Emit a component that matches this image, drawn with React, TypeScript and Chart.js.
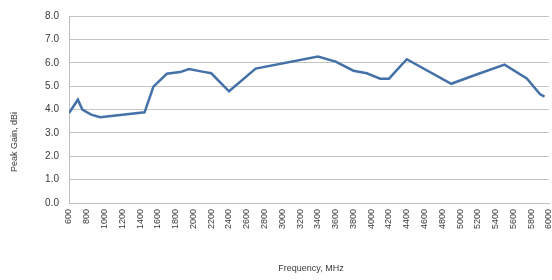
import React, { useEffect, useRef } from "react";
import { Chart, registerables } from "chart.js";

Chart.register(...registerables);

const frequencies = [600, 700, 750, 850, 950, 1450, 1550, 1700, 1850, 1950, 2100, 2200, 2400, 2700, 3400, 3600, 3800, 3950, 4100, 4200, 4400, 4900, 5200, 5500, 5750, 5900, 5950];
const gains = [3.85, 4.42, 4.0, 3.78, 3.67, 3.88, 4.98, 5.53, 5.6, 5.73, 5.62, 5.55, 4.78, 5.75, 6.27, 6.05, 5.66, 5.55, 5.32, 5.32, 6.15, 5.1, 5.52, 5.92, 5.33, 4.65, 4.55];
const xTitle = "Frequency, MHz";
const yTitle = "Peak Gain, dBi";

const FONT = '"Liberation Sans", Arial, sans-serif';

export default function App() {
  const ref = useRef<HTMLCanvasElement>(null);
  useEffect(() => {
    if (!ref.current) return;
    const titles = {
      id: "titles",
      afterDraw(chart: any) {
        const ctx = chart.ctx;
        ctx.save();
        ctx.font = `9px ${FONT}`;
        ctx.fillStyle = "#3A3A3A";
        ctx.textAlign = "center";
        ctx.textBaseline = "middle";
        ctx.fillText(xTitle, 311, 269);
        ctx.translate(15, 142);
        ctx.rotate(-Math.PI / 2);
        ctx.fillText(yTitle, 0, 0);
        ctx.restore();
      },
    };
    const chart = new Chart(ref.current, {
      type: "line",
      data: {
        datasets: [
          {
            data: frequencies.map((f, i) => ({ x: f, y: gains[i] })),
            borderColor: "#4472A8",
            borderWidth: 2.5,
            pointRadius: 0,
            tension: 0,
            fill: false,
          },
        ],
      },
      options: {
        responsive: false,
        animation: false,
        layout: { padding: { left: 0, right: 3, top: 15, bottom: 0 } },
        plugins: { legend: { display: false }, tooltip: { enabled: false } },
        scales: {
          x: {
            type: "linear",
            min: 600,
            max: 6000,
            grid: { display: false, drawTicks: false },
            border: { display: true, color: "#BFBFBF" },
            ticks: {
              stepSize: 200,
              autoSkip: false,
              maxRotation: 90,
              minRotation: 90,
              padding: 6,
              color: "#3A3A3A",
              font: { family: FONT, size: 9 },
              callback: (v: any) => String(v),
            },
            afterFit: (s: any) => {
              s.height = 77;
              s.paddingLeft = 0;
              s.paddingRight = 0;
            },
          },
          y: {
            min: 0,
            max: 8,
            grid: { color: "#C4C4C4", drawTicks: false },
            border: { display: true, color: "#BFBFBF" },
            ticks: {
              stepSize: 1,
              padding: 10,
              color: "#3A3A3A",
              font: { family: FONT, size: 10 },
              callback: (v: any) => Number(v).toFixed(1),
            },
            afterFit: (s: any) => {
              s.width = 69;
            },
          },
        },
      },
      plugins: [titles],
    });
    return () => chart.destroy();
  }, []);
  return (
    <div style={{ position: "fixed", left: 0, top: 0, width: 552, height: 280, background: "#fff" }}>
      <canvas ref={ref} width={552} height={280} style={{ display: "block" }} />
    </div>
  );
}
